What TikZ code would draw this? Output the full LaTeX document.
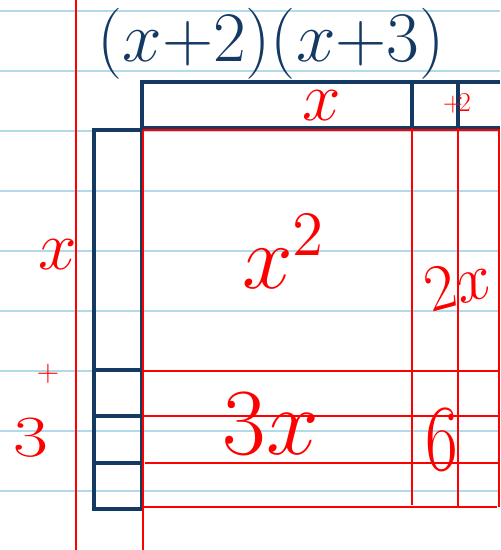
\documentclass[tikz,border=0pt]{standalone}
\usetikzlibrary{positioning}
\definecolor{inkblue}{RGB}{20,58,100}
\definecolor{ruled}{RGB}{178,218,232}
\definecolor{penred}{RGB}{255,0,0}

\begin{document}
\begin{tikzpicture}[x=0.02cm, y=-0.02cm,
  rule/.style={ruled, line width=1.6pt},
  bluebox/.style={draw=inkblue, line width=1.8pt},
  redline/.style={penred, line width=1.6pt},
  redlbl/.style={text=penred, inner sep=0pt, font=\fontsize{20}{20}\selectfont}]
  \useasboundingbox (0,0) rectangle (500,550);
  % Ruled paper
  \foreach \y in {11,71,...,551} {
    \draw[rule] (0,\y) -- (500,\y);
  }
  \draw[redline] (76,0) -- (76,550);
  % Title
  \node[text=inkblue, inner sep=0pt, font=\fontsize{20}{20}\selectfont, scale=1.95] (title) at (271,44) {$(x{+}2)(x{+}3)$};
  % Top strip: x and +2
  \draw[bluebox] (142,82) rectangle (412,128);
  \draw[bluebox] (412,82) rectangle (458,128);
  \draw[bluebox] (458,82) -- (500,82);
  \draw[bluebox] (458,128) -- (500,128);
  % Left strip: x and +3
  \draw[bluebox] (94,130) rectangle (142,370);
  \foreach \t/\b in {370/416, 416/463, 463/509} {
    \draw[bluebox] (94,\t) rectangle (142,\b);
  }
  % Area grid
  \draw[redline] (143,130) -- (500,130);
  \draw[redline] (143,130) -- (143,550);
  \draw[redline] (412,128) -- (412,505);
  \draw[redline] (458,128) -- (458,507);
  \draw[redline] (499,130) -- (499,507);
  \draw[redline] (143,371) -- (500,371);
  \draw[redline] (143,416) -- (500,416);
  \draw[redline] (145,463) -- (500,463);
  \draw[redline] (143,507) -- (497,507);
  % Side labels
  \node[redlbl, scale=1.9] (topx) at (322,106) {$x$};
  \node[redlbl, scale=0.75] (topplus) at (457,104) {$+\!2$};
  \node[redlbl, scale=1.9] (leftx) at (58,255) {$x$};
  \node[redlbl, scale=0.85] (leftplus) at (48,374) {$+$};
  \node[redlbl, scale=1.6, xscale=1.3] (leftthree) at (31,438) {$3$};
  % Area labels
  \node[redlbl, scale=2.5] (xsq) at (284,252) {$x^2$};
  \node[redlbl, scale=1.8, rotate=15] (twox) at (458,283) {$2x$};
  \node[redlbl, scale=2.6] (threex) at (271,424) {$3x$};
  \node[redlbl, scale=2.6, xscale=0.75] (six) at (442,440) {$6$};
\end{tikzpicture}
\end{document}
